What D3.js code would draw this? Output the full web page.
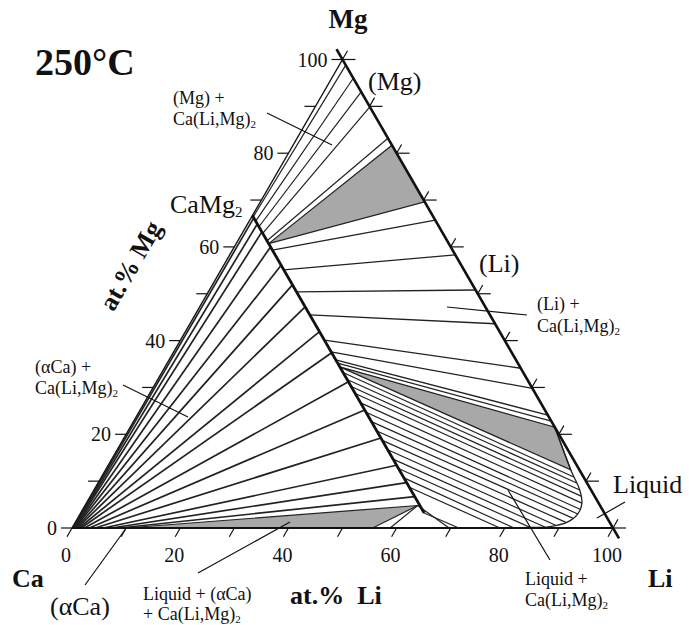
<!DOCTYPE html>
<html>
<head>
<meta charset="utf-8">
<script src="https://cdn.jsdelivr.net/npm/d3@7/dist/d3.min.js"></script>
<style>
body { margin: 0; background: #fff; }
text { font-family: "Liberation Serif", "Times New Roman", serif; fill: #111; }
</style>
</head>
<body>
<svg width="689" height="625"></svg>
<script>
// every composition is [at.% Li, at.% Mg], Ca is the rest
var tickValues = [0, 10, 20, 30, 40, 50, 60, 70, 80, 90, 100];
var tickLabels = [0, 20, 40, 60, 80, 100];

// Ca(Li,Mg)2 solid solution, Ca fixed at 33.3
var compound = [[0, 66.7], [63.5, 3.2]];

// three phase fields (grey)
var triMgLi = [[6, 60.7], [18.3, 81.7], [30.4, 69.6]];
var triLiLiquid = [[32.3, 34.4], [78.5, 21.5], [86, 12.4]];
var triCaLiquid = [[10, 0], [55.6, 0], [61.5, 4.8]];

// liquid boundary near the Li corner
var liquidCurve = [[78.5, 21.5], [86, 12.4], [89.8, 8.1], [91.6, 5.3], [92, 3], [91, 1.3], [88.2, 0.3], [82.8, 0.1], [75, 0]];

// tie lines (Mg) + Ca(Li,Mg)2
var tiesMg = [
  [[0.3, 66.4], [1.2, 98.8]],
  [[1.2, 65.5], [4.0, 96.0]],
  [[2.4, 64.3], [6.9, 93.1]],
  [[3.8, 62.9], [10.1, 89.9]],
  [[5.4, 61.3], [16.8, 83.2]]
];

// tie lines (Li) + Ca(Li,Mg)2
var tiesLi = [
  [[7.4, 59.3], [34.3, 65.7]],
  [[11.6, 55.1], [41.7, 58.3]],
  [[16.3, 50.4], [49.2, 50.8]],
  [[21.2, 45.5], [56.4, 43.6]],
  [[26.6, 40.1], [65.9, 34.1]],
  [[29.1, 37.6], [70.2, 29.8]],
  [[30.8, 35.9], [75.9, 24.1]],
  [[31.5, 35.2], [77.2, 22.8]]
];

// tie lines (aCa) + Ca(Li,Mg)2
var tiesCa = [
  [[0.2, 0], [0.5, 66.2]],
  [[0.3, 0], [1.8, 64.9]],
  [[0.4, 0], [3.5, 63.2]],
  [[0.5, 0], [6.7, 60.0]],
  [[0.6, 0], [10.6, 56.1]],
  [[0.8, 0], [14.8, 51.9]],
  [[1.0, 0], [19.5, 47.2]],
  [[1.3, 0], [24.8, 41.9]],
  [[1.7, 0], [29.3, 37.4]],
  [[2.3, 0], [35.5, 31.2]],
  [[3.2, 0], [41.5, 25.2]],
  [[4.3, 0], [47.5, 19.2]],
  [[5.8, 0], [53.3, 13.4]],
  [[7.3, 0], [57.0, 9.7]],
  [[8.8, 0], [60.0, 6.7]]
];

// tie lines Liquid + Ca(Li,Mg)2
var tiesLiquid = [
  [[33.5, 33.2], [87.3, 10.9]],
  [[35, 31.7], [88.5, 9.6]],
  [[36.5, 30.2], [89.8, 8.1]],
  [[38, 28.7], [90.7, 6.8]],
  [[40, 26.7], [91.6, 5.3]],
  [[42, 24.7], [91.9, 4.0]],
  [[44, 22.7], [92.0, 3.0]],
  [[46, 20.7], [91.5, 2.1]],
  [[48, 18.7], [90.7, 1.2]],
  [[50, 16.7], [89.1, 0.6]],
  [[52, 14.7], [87.3, 0.2]],
  [[54, 12.7], [84.7, 0.1]],
  [[56, 10.7], [81.7, 0]],
  [[58, 8.7], [79.1, 0]],
  [[61.5, 4.8], [69.7, 0]],
  [[61.5, 4.8], [58.8, 0]],
  [[63.5, 3.2], [71.5, 0]]
];

var svg = d3.select("svg");

var x = d3.scaleLinear().domain([0, 100]).range([72, 613]);
var y = d3.scaleLinear().domain([0, 100]).range([528, 59.5]);
function px(c) { return [x(c[0] + c[1] / 2), y(c[1])]; }

var line = d3.line()
    .x(function(c) { return px(c)[0]; })
    .y(function(c) { return px(c)[1]; });

// grey three phase triangles
svg.selectAll(".tri")
  .data([triMgLi, triLiLiquid, triCaLiquid])
  .enter().append("path")
    .attr("class", "tri")
    .attr("d", function(d) { return line(d) + "Z"; })
    .attr("fill", "#a8a8a8")
    .attr("stroke", "#222")
    .attr("stroke-width", 1.2);

function ties(data, w) {
  svg.append("g").selectAll("path")
    .data(data)
    .enter().append("path")
      .attr("d", line)
      .attr("fill", "none")
      .attr("stroke", "#222")
      .attr("stroke-width", w);
}
ties(tiesMg, 1.2);
ties(tiesLi, 1.3);
ties(tiesCa, 1.7);
ties(tiesLiquid, 1.2);

svg.append("path")
    .attr("d", d3.line()
        .x(function(c) { return px(c)[0]; })
        .y(function(c) { return px(c)[1]; })
        .curve(d3.curveCatmullRom)(liquidCurve))
    .attr("fill", "none")
    .attr("stroke", "#222")
    .attr("stroke-width", 1.3);

// triangle edges
var ca = px([0, 0]), li = px([100, 0]), mg = px([0, 100]);
svg.append("line").attr("x1", ca[0]).attr("y1", ca[1]).attr("x2", mg[0]).attr("y2", mg[1])
    .attr("stroke", "#111").attr("stroke-width", 1.4);
svg.append("line").attr("x1", mg[0] - 6).attr("y1", mg[1] - 10.4).attr("x2", li[0] + 6).attr("y2", li[1] + 10.4)
    .attr("stroke", "#111").attr("stroke-width", 2.6);
svg.append("line").attr("x1", ca[0]).attr("y1", ca[1]).attr("x2", li[0]).attr("y2", li[1])
    .attr("stroke", "#111").attr("stroke-width", 2.2);

// Ca(Li,Mg)2 line
svg.append("path")
    .attr("d", line(compound))
    .attr("stroke", "#111")
    .attr("stroke-width", 2.8);

// ticks
var tk = svg.append("g").attr("stroke", "#111").attr("stroke-width", 1.2);
tickValues.forEach(function(t) {
  var p = px([0, t]);
  tk.append("line").attr("x1", p[0]).attr("y1", p[1]).attr("x2", p[0] - 11).attr("y2", p[1]);
  var q = px([100 - t, t]);
  tk.append("line").attr("x1", q[0]).attr("y1", q[1]).attr("x2", q[0] + 13).attr("y2", q[1]);
  tk.append("line").attr("x1", q[0]).attr("y1", q[1]).attr("x2", q[0] + 5).attr("y2", q[1] - 8.7);
  var b = px([t, 0]);
  tk.append("line").attr("x1", b[0]).attr("y1", b[1]).attr("x2", b[0] - 5).attr("y2", b[1] + 8.7);
});

svg.selectAll(".lab-mg")
  .data(tickLabels)
  .enter().append("text")
    .attr("x", function(d) { return px([0, d])[0] - 15; })
    .attr("y", function(d) { return px([0, d])[1]; })
    .attr("dy", "0.35em")
    .attr("text-anchor", "end")
    .attr("font-size", 20)
    .text(function(d) { return d; });

svg.selectAll(".lab-li")
  .data(tickLabels)
  .enter().append("text")
    .attr("x", function(d) { return px([d, 0])[0] - 6; })
    .attr("y", 562)
    .attr("text-anchor", "middle")
    .attr("font-size", 20)
    .text(function(d) { return d; });

// titles
function txt(s, tx, ty, size, bold) {
  return svg.append("text").attr("x", tx).attr("y", ty)
      .attr("font-size", size).attr("font-weight", bold ? "bold" : null).text(s);
}
txt("250°C", 35, 75, 38, true);
txt("Mg", 348, 28, 27, true).attr("text-anchor", "middle");
txt("Ca", 12, 587, 26, true);
txt("Li", 648, 587, 26, true);
txt("at.%\u00a0 Li", 290, 604, 26, true);
txt("at.% Mg", 0, 0, 26, true)
    .attr("text-anchor", "middle")
    .attr("transform", "translate(138,270) rotate(-60)");

function sub2(t, size) {
  t.append("tspan").attr("font-size", size).attr("dy", "0.25em").text("2");
}
sub2(txt("CaMg", 170, 213, 26, false), 15);
txt("(Mg)", 368, 90, 26, false);
txt("(Li)", 479, 272, 26, false);
txt("Liquid", 613, 493, 26, false);
txt("(\u03b1Ca)", 50, 615, 26, false);

function twoLines(a, b, tx, ty1, ty2) {
  txt(a, tx, ty1, 18, false);
  sub2(txt(b, tx, ty2, 18, false), 11);
}
twoLines("(Mg) +", "Ca(Li,Mg)", 173, 104, 125);
twoLines("(Li) +", "Ca(Li,Mg)", 537, 310, 332);
twoLines("(\u03b1Ca) +", "Ca(Li,Mg)", 35, 373, 394);
twoLines("Liquid + (\u03b1Ca)", "+ Ca(Li,Mg)", 143, 600, 620);
twoLines("Liquid +", "Ca(Li,Mg)", 525, 585, 606);

// leader lines
var leaders = [
  [267, 113, 332, 145],
  [447, 307, 527, 315],
  [123, 385, 188, 417],
  [198, 573, 290, 522],
  [85, 585, 127, 527],
  [550, 560, 508, 490],
  [597, 518, 625, 502]
];
svg.append("g").selectAll("line")
  .data(leaders)
  .enter().append("line")
    .attr("x1", function(d) { return d[0]; })
    .attr("y1", function(d) { return d[1]; })
    .attr("x2", function(d) { return d[2]; })
    .attr("y2", function(d) { return d[3]; })
    .attr("stroke", "#111")
    .attr("stroke-width", 1.2);
</script>
</body>
</html>
